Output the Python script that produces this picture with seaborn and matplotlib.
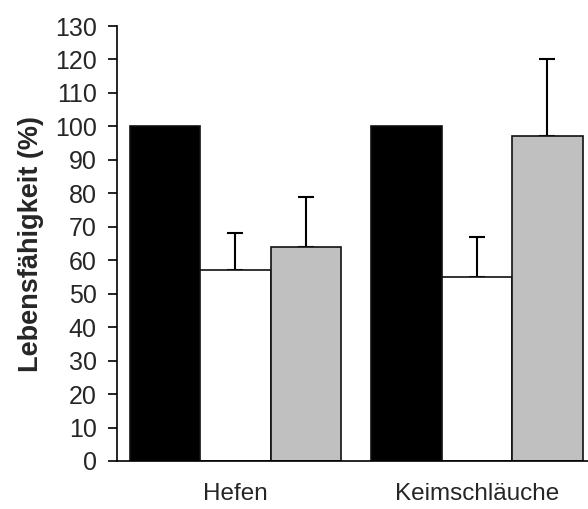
import matplotlib
matplotlib.use("Agg")
import matplotlib.pyplot as plt
import seaborn as sns
import pandas as pd

categories = ["Hefen", "Keimschläuche"]
series = ["A", "B", "C"]
values_A = [100, 100]
values_B = [57, 55]
values_C = [64, 97]
err_A = [0, 0]
err_B = [11, 12]
err_C = [15, 23]
yticks = list(range(0, 131, 10))

rows = []
for s, vals, errs in zip(series, [values_A, values_B, values_C], [err_A, err_B, err_C]):
    for c, v, e in zip(categories, vals, errs):
        rows.append({"Gruppe": c, "Serie": s, "Wert": v, "Fehler": e})
df = pd.DataFrame(rows)

sns.set_style("white")
plt.rcParams["font.family"] = ["Liberation Sans", "DejaVu Sans"]

fig = plt.figure(figsize=(5.88, 5.09), dpi=100)
ax = fig.add_axes([117/588, 48/509, 471/588, 435/509])

palette = {"A": "#000000", "B": "#ffffff", "C": "#c0c0c0"}
sns.barplot(data=df, x="Gruppe", y="Wert", hue="Serie", order=categories,
            hue_order=series, palette=palette, errorbar=None, width=0.875,
            edgecolor="#111111", linewidth=1.2, legend=False, ax=ax, zorder=2)

# error bars (upper only) placed at bar centers
for patch_group, s in zip(ax.containers, series):
    sub = df[df["Serie"] == s].set_index("Gruppe").loc[categories]
    for bar, (_, r) in zip(patch_group, sub.iterrows()):
        if r["Fehler"] > 0:
            xc = bar.get_x() + bar.get_width() / 2
            ax.errorbar(xc, r["Wert"], yerr=[[0], [r["Fehler"]]], fmt="none",
                        ecolor="black", elinewidth=1.5, capsize=5.6,
                        capthick=1.5, zorder=1)

ax.set_ylim(0, 130)
ax.set_xlim(-0.49, 1.46)
ax.set_yticks(yticks)
ax.set_yticklabels([str(t) for t in yticks], fontsize=18)
ax.tick_params(axis="y", direction="out", length=6.5, width=1.2, pad=8, left=True, color="black")
ax.tick_params(axis="x", length=0, pad=16, labelsize=17.5)
ax.set_xlabel("")
ax.set_ylabel("Lebensfähigkeit (%)", fontsize=19.5, fontweight="bold", labelpad=8)

for side in ["top", "right"]:
    ax.spines[side].set_visible(False)
for side in ["left", "bottom"]:
    ax.spines[side].set_color("black")
    ax.spines[side].set_linewidth(1.2)

fig.savefig("out.png", dpi=100)
